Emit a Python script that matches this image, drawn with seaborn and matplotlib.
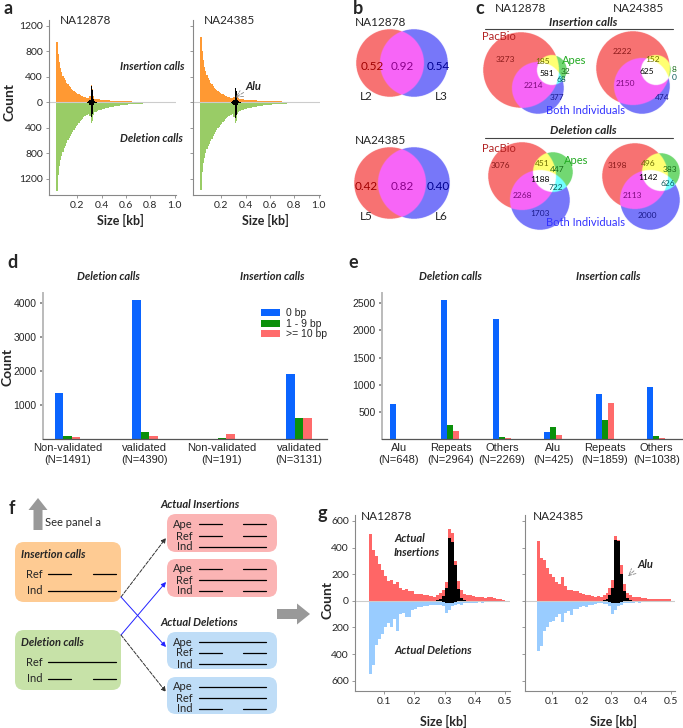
import numpy as np
import pandas as pd
import matplotlib
matplotlib.use("Agg")
import matplotlib.pyplot as plt
import seaborn as sns
from matplotlib.patches import FancyBboxPatch, FancyArrow
from matplotlib.ticker import FuncFormatter

# ---------------- data ----------------
# panel a: size histograms, 0.01 kb bins starting at 0.03 kb
a_ins_na12878 = [950, 760, 640, 540, 470, 420, 380, 345, 310, 280, 255, 235, 215, 195, 178,
                 163, 150, 138, 125, 113, 102, 93, 85, 78, 72, 67, 70, 95, 265, 210,
                 100, 58, 52, 49, 47, 45, 43,
                 41, 39, 37, 35, 33, 31, 30, 28, 27, 26,
                 25, 24, 23, 22, 21, 20, 19, 18, 17, 16, 15, 15, 14, 13, 13, 12, 12, 11, 11, 10,
                 10, 9, 9, 9, 8, 8, 8, 7, 7, 7, 7, 6, 6, 6, 6, 5, 5, 5, 5, 5,
                 5, 4, 4, 4, 4, 4, 4, 4, 4, 4]
a_del_na12878 = [1400, 1150, 1000, 900, 850, 780, 720, 680, 640, 600, 560, 530, 500, 460, 430,
                 400, 375, 350, 325, 300, 275, 255, 235, 220, 205, 195, 190, 220, 330, 300,
                 200, 160, 145, 135, 128, 122, 116,
                 110, 104, 98, 93, 88, 83, 79, 75, 71, 67,
                 63, 60, 57, 54, 51, 48, 45, 43, 41, 39, 37, 35, 33, 31, 30, 28, 27, 26, 25, 24,
                 23, 22, 21, 20, 19, 18, 17, 16, 16, 15, 15, 14, 14, 13, 13, 12, 12, 11, 11, 10,
                 10, 10, 9, 9, 9, 8, 8, 8, 7, 7]
a_ins_na24385 = [1030, 800, 660, 560, 490, 430, 385, 345, 310, 280, 255, 232, 212, 195, 178,
                 163, 150, 137, 124, 112, 101, 92, 84, 77, 71, 66, 68, 90, 190, 160,
                 85, 60, 53, 50, 47, 45, 43,
                 41, 39, 37, 35, 34, 32, 31, 30, 29, 28,
                 27, 26, 25, 24, 23, 22, 21, 20, 19, 18, 18, 17, 16, 16, 15, 15, 14, 14, 13, 13,
                 12, 12, 11, 11, 11, 10, 10, 10, 9, 9, 9, 8, 8, 8, 8, 7, 7, 7, 7, 6,
                 6, 6, 6, 6, 5, 5, 5, 5, 5, 5]
a_del_na24385 = [1375, 1100, 960, 870, 800, 740, 690, 650, 610, 570, 535, 500, 470, 440, 410,
                 385, 360, 335, 310, 290, 270, 250, 232, 218, 205, 195, 190, 230, 325, 290,
                 190, 150, 138, 128, 120, 114, 108,
                 102, 97, 92, 87, 83, 79, 75, 71, 67, 64,
                 61, 58, 55, 52, 50, 47, 45, 43, 41, 39, 37, 35, 33, 32, 30, 29, 28, 26, 25, 24,
                 23, 22, 21, 20, 19, 18, 17, 17, 16, 15, 15, 14, 13, 13, 12, 12, 11, 11, 10, 10,
                 10, 9, 9, 8, 8, 8, 7, 7, 7, 6]
# Alu calls, bins from 0.27 kb
a_alu_ins_na12878 = [3, 8, 15, 40, 255, 200, 45, 15, 6, 2]
a_alu_del_na12878 = [3, 8, 18, 45, 230, 180, 40, 15, 5, 2]
a_alu_ins_na24385 = [3, 8, 15, 40, 225, 180, 40, 15, 5, 2]
a_alu_del_na24385 = [3, 10, 20, 50, 250, 200, 45, 15, 6, 2]

# panel b: overlap fractions
b_names = ["NA12878", "NA24385"]
b_libs = [["L2", "L3"], ["L5", "L6"]]
b_values = [[0.52, 0.92, 0.54], [0.42, 0.82, 0.40]]

# panel c: venn counts, regions = PacBio only, PacBio&Both, PacBio&Apes, all,
# Apes only, Apes&Both, Both only
c_ins_na12878 = [3273, 2214, 185, 581, 32, 68, 377]
c_ins_na24385 = [2222, 2150, 152, 625, 8, 0, 474]
c_del_na12878 = [3076, 2268, 451, 1188, 447, 722, 1703]
c_del_na24385 = [3198, 2113, 496, 1142, 383, 626, 2000]

# panel d
d_groups = ["Non-validated\n(N=1491)", "validated\n(N=4390)",
            "Non-validated\n(N=191)", "validated\n(N=3131)"]
shift_labels = ["0 bp", "1 - 9 bp", ">= 10 bp"]
d_zero = [1350, 4070, 10, 1910]
d_small = [90, 220, 30, 615]
d_large = [55, 100, 150, 606]

# panel e
e_groups = ["Alu\n(N=648)", "Repeats\n(N=2964)", "Others\n(N=2269)",
            "Alu\n(N=425)", "Repeats\n(N=1859)", "Others\n(N=1038)"]
e_zero = [640, 2560, 2210, 130, 835, 962]
e_small = [5, 260, 40, 220, 355, 60]
e_large = [3, 140, 15, 75, 669, 16]

# panel g: 0.01 kb bins starting at 0.05 kb
g_ins_na12878 = [500, 380, 340, 280, 230, 190, 150, 160, 130, 140, 100, 80, 90, 70, 70,
                 50, 50, 50, 45, 40, 35, 30, 40, 60, 80, 140, 540, 510, 300, 150,
                 80, 50, 45, 40, 35, 30, 30, 25, 20, 25, 25, 20, 15, 10, 8]
g_del_na12878 = [550, 480, 330, 290, 250, 200, 170, 200, 140, 230, 100, 90, 120, 120, 70,
                 60, 50, 45, 40, 40, 35, 30, 30, 30, 40, 90, 70, 40, 30, 25,
                 30, 20, 20, 15, 20, 15, 10, 15, 10, 10, 8, 8, 6, 5, 5]
g_ins_na24385 = [450, 320, 310, 250, 200, 180, 140, 130, 180, 110, 80, 80, 70, 70, 60,
                 50, 40, 40, 35, 30, 35, 30, 40, 60, 100, 160, 490, 460, 270, 130,
                 60, 40, 30, 25, 25, 20, 20, 15, 15, 15, 15, 10, 15, 15, 10]
g_del_na24385 = [380, 340, 230, 200, 160, 150, 120, 100, 160, 90, 80, 110, 60, 60, 50,
                 40, 45, 35, 30, 25, 20, 20, 25, 25, 40, 100, 70, 40, 30, 20,
                 20, 15, 15, 12, 15, 10, 10, 10, 8, 8, 8, 6, 6, 5, 5]
g_alu_ins_na12878 = [5, 15, 35, 100, 470, 440, 270, 90, 20, 5]   # from 0.27 kb
g_alu_ins_na24385 = [5, 15, 40, 100, 460, 450, 200, 70, 20, 5]
g_alu_del_na12878 = [3, 8, 15, 20, 18, 10, 4]                  # from 0.28 kb
g_alu_del_na24385 = [3, 8, 15, 20, 18, 10, 4]

# ---------------- figure ----------------
sns.set_theme(style="ticks")
plt.rcParams["font.family"] = ["Lato", "DejaVu Sans"]

W, H = 683, 728
fig = plt.figure(figsize=(W / 100, H / 100), dpi=100)
canvas = fig.add_axes([0, 0, 1, 1], zorder=5)
canvas.axis("off")


def box(x0, y0, x1, y1):
    return fig.add_axes([x0 / W, 1 - y1 / H, (x1 - x0) / W, (y1 - y0) / H])


absfmt = FuncFormatter(lambda v, p: "%d" % abs(v))
BI = dict(fontweight="bold", fontstyle="italic")
ARIAL = ["Liberation Sans", "DejaVu Sans"]


def style_axes(ax, show_labels=True, size=7.5):
    sns.despine(ax=ax)
    for s in ["left", "bottom"]:
        ax.spines[s].set_color("#888888")
        ax.spines[s].set_linewidth(0.8)
    ax.tick_params(length=2.5, width=0.6, color="#888888", labelsize=size, pad=2)
    if not show_labels:
        ax.tick_params(labelleft=False)


def mirror_hist(ax, start, width, ins, dele, c_ins, c_del,
                alu_ins, alu_ins_start, alu_del, alu_del_start):
    x = start + width * np.arange(len(ins))
    ax.bar(x, ins, width=width, align="edge", color=c_ins, linewidth=0)
    ax.bar(x, -np.array(dele), width=width, align="edge", color=c_del, linewidth=0)
    ax.axhline(0, color="#CCCCCC", lw=0.8, zorder=2.5)
    xa = alu_ins_start + width * np.arange(len(alu_ins))
    ax.bar(xa, alu_ins, width=width, align="edge", color="black", linewidth=0, zorder=3)
    xd = alu_del_start + width * np.arange(len(alu_del))
    ax.bar(xd, -np.array(alu_del), width=width, align="edge", color="black",
           linewidth=0, zorder=3)
    ax.yaxis.set_major_formatter(absfmt)


# ---- panel a ----
for i, (x0, x1, ins, dele, ai, ad) in enumerate([
        (49, 176, a_ins_na12878, a_del_na12878, a_alu_ins_na12878, a_alu_del_na12878),
        (193, 320, a_ins_na24385, a_del_na24385, a_alu_ins_na24385, a_alu_del_na24385)]):
    ax = box(x0, 20, x1, 195)
    mirror_hist(ax, 0.03, 0.01, ins, dele, "#FF9933", "#99CC66", ai, 0.27, ad, 0.27)
    ax.set_xlim(-0.03, 1.01)
    ax.set_ylim(-1458, 1294)
    ax.set_yticks([-1200, -800, -400, 0, 400, 800, 1200])
    ax.set_xticks([0.2, 0.4, 0.6, 0.8, 1.0])
    style_axes(ax, show_labels=(i == 0))

canvas.text(60, 20, "NA12878", fontsize=8.5, va="center")
canvas.text(204, 20, "NA24385", fontsize=8.5, va="center")
canvas.text(152, 66, "Insertion calls", fontsize=8, ha="center", va="center", **BI)
canvas.text(151, 138, "Deletion calls", fontsize=8, ha="center", va="center", **BI)
canvas.text(10, 102, "Count", fontsize=10, fontweight="bold", rotation=90,
            ha="center", va="center")
canvas.text(120, 220, "Size [kb]", fontsize=9, fontweight="bold", ha="center", va="center")
canvas.text(265, 220, "Size [kb]", fontsize=9, fontweight="bold", ha="center", va="center")
canvas.text(245, 87, "Alu", fontsize=8, ha="left", va="center", **BI)
canvas.annotate("", xy=(233, 99), xytext=(246, 91),
                arrowprops=dict(arrowstyle="->", color="#888888", ls="--", lw=0.6))

# ---- venn helpers ----
RED = (0.97, 0.45, 0.45)
BLUE = (0.47, 0.47, 0.98)
MAG = (0.97, 0.40, 0.97)
GREEN = (0.45, 0.85, 0.45)
YEL = (1.0, 1.0, 0.45)
CYAN = (0.45, 1.0, 1.0)
lut2 = np.array([(1, 1, 1, 0), RED + (1,), BLUE + (1,), MAG + (1,)])
lut3 = np.array([(1, 1, 1, 0), RED + (1,), BLUE + (1,), MAG + (1,),
                 GREEN + (1,), YEL + (1,), CYAN + (1,), (1, 1, 1, 1)])


def draw_venn(circles, lut):
    x0 = min(cx - r for cx, cy, r in circles) - 2
    x1 = max(cx + r for cx, cy, r in circles) + 2
    y0 = min(cy - r for cx, cy, r in circles) - 2
    y1 = max(cy + r for cx, cy, r in circles) + 2
    xs = np.arange(x0, x1, 0.25) + 0.125
    ys = np.arange(y0, y1, 0.25) + 0.125
    X, Y = np.meshgrid(xs, ys)
    code = np.zeros(X.shape, int)
    for k, (cx, cy, r) in enumerate(circles):
        code += ((X - cx) ** 2 + (Y - cy) ** 2 <= r * r).astype(int) << k
    canvas.imshow(lut[code], extent=(xs[0], xs[-1], ys[-1], ys[0]),
                  interpolation="bilinear", aspect="auto", zorder=1)


# ---- panel b ----
b_circles = [[(390, 63, 34), (414, 63, 34)], [(390, 183, 36), (414, 183, 36)]]
b_text_x = [[372, 402, 438], [366, 402, 438]]
b_text_colors = ["#A00000", "#8A008A", "#000090"]
for row in range(2):
    draw_venn(b_circles[row], lut2)
    cy = b_circles[row][0][1]
    canvas.text(355, cy - 40 - 3 * row, b_names[row], fontsize=8.5, va="center")
    for tx, val, col in zip(b_text_x[row], b_values[row], b_text_colors):
        canvas.text(tx, cy + 3, "%.2f" % val, color=col, fontsize=8.5,
                    ha="center", va="center")
    canvas.text(366, cy + 34, b_libs[row][0], fontsize=8.5, ha="center", va="center")
    canvas.text(441, cy + 34, b_libs[row][1], fontsize=8.5, ha="center", va="center")

# ---- panel c ----
region_codes = [1, 3, 5, 7, 4, 6, 2]
region_text = {1: "#8B1A1A", 3: "#7D0A7D", 5: "#6B6B00", 7: "black",
               4: "#1A6B1A", 6: "#0A5A5A", 2: "#1A1A8B"}
c_sets = [
    (c_ins_na12878, [(521, 70, 38), (538, 88, 26), (552, 70, 15)],
     [(505, 60), (533, 86), (543, 61), (547, 73), (566, 71), (561, 80), (557, 98)]),
    (c_ins_na24385, [(633, 68, 37), (642, 86, 28), (656, 70, 15)],
     [(622, 52), (625, 83), (653, 60), (647, 72), (674, 70), (674, 78), (662, 98)]),
    (c_del_na12878, [(522, 176, 34), (540, 200, 30), (553, 172, 20)],
     [(500, 166), (522, 196), (542, 163), (540, 180), (557, 170), (556, 187), (540, 213)]),
    (c_del_na24385, [(635, 176, 33), (650, 200, 30), (661, 172, 19)],
     [(617, 166), (632, 196), (648, 163), (648, 178), (670, 169), (668, 184), (647, 216)]),
]
for counts, circles, pos in c_sets:
    draw_venn(circles, lut3)
    for n, code, (tx, ty) in zip(counts, region_codes, pos):
        canvas.text(tx, ty, str(n), color=region_text[code], fontsize=6,
                    ha="center", va="center")

canvas.text(521, 8, "NA12878", fontsize=8.5, ha="center", va="center")
canvas.text(639, 8, "NA24385", fontsize=8.5, ha="center", va="center")
for ty, title in [(22, "Insertion calls"), (131, "Deletion calls")]:
    canvas.text(583, ty, title, fontsize=8.5, ha="center", va="center", **BI)
    canvas.plot([485, 673], [ty + 7, ty + 7], color="#444444", lw=0.8)
for py, ax_, bx, by in [(37, 562, 60, 110), (149, 564, 161, 223)]:
    canvas.text(482, py, "PacBio", color="#B22222", fontsize=8, va="center")
    canvas.text(ax_, bx, "Apes", color="#22AA22", fontsize=8, va="center")
    canvas.text(585, by, "Both Individuals", color="#3333FF",
                fontsize=8, ha="center", va="center")

# ---- panels d and e ----
palette = ["#0A64FF", "#0B900B", "#FF6B6B"]


def grouped_bars(ax, groups, zero, small, large, legend, width):
    df = pd.DataFrame({
        "group": groups * 3,
        "shift": sum([[s] * len(groups) for s in shift_labels], []),
        "count": zero + small + large,
    })
    sns.barplot(data=df, x="group", y="count", hue="shift", hue_order=shift_labels,
                palette=palette, saturation=1, errorbar=None, ax=ax,
                legend=legend, linewidth=0, width=width)
    sns.despine(ax=ax)
    ax.spines["left"].set_color("#BBBBBB")
    ax.spines["left"].set_linewidth(1.4)
    ax.spines["bottom"].set_color("#555555")
    ax.spines["bottom"].set_linewidth(0.9)
    ax.tick_params(axis="x", length=0, labelsize=8, pad=3)
    ax.tick_params(axis="y", length=2.5, color="#888888", labelsize=7.5, pad=2)
    ax.set_xlabel("")
    ax.set_ylabel("")


def arial_ticks(ax):
    for t in ax.get_yticklabels() + ax.get_xticklabels():
        t.set_family(ARIAL)


ax_d = box(43, 293, 327, 439)
grouped_bars(ax_d, d_groups, d_zero, d_small, d_large, True, 0.33)
ax_d.set_xlim(-0.32, 3.36)
ax_d.set_ylim(0, 4290)
ax_d.set_yticks([1000, 2000, 3000, 4000])
arial_ticks(ax_d)
h, l = ax_d.get_legend_handles_labels()
ax_d.legend(h, l, loc="upper right", bbox_to_anchor=(1.02, 0.93), frameon=False,
            handlelength=1.8, handleheight=0.7, labelspacing=0.05,
            handletextpad=0.6, borderpad=0, prop={"family": ARIAL, "size": 7.5})

ax_e = box(382, 293, 682, 439)
grouped_bars(ax_e, e_groups, e_zero, e_small, e_large, False, 0.35)
ax_e.set_xlim(-0.33, 5.5)
ax_e.set_ylim(0, 2690)
ax_e.set_yticks([500, 1000, 1500, 2000, 2500])
arial_ticks(ax_e)

canvas.text(8, 367, "Count", fontsize=10, fontweight="bold", rotation=90,
            ha="center", va="center")
for tx, title in [(108, "Deletion calls"), (272, "Insertion calls"),
                  (450, "Deletion calls"), (608, "Insertion calls")]:
    canvas.text(tx, 276, title, fontsize=8, ha="center", va="center", **BI)


# ---- panel f ----
def rbox(x0, y0, x1, y1, color):
    canvas.add_patch(FancyBboxPatch((x0, y0), x1 - x0, y1 - y0,
                                    boxstyle="round,pad=0,rounding_size=9",
                                    fc=color, ec="none", zorder=1))


def tracks(xl, x0, x1, rows):
    gap_a = x0 + (x1 - x0) * 0.34
    gap_b = x0 + (x1 - x0) * 0.66
    for name, y, full in rows:
        canvas.text(xl, y, name, fontsize=8, ha="right", va="center")
        if full:
            canvas.plot([x0, x1], [y, y], color="black", lw=0.9)
        else:
            canvas.plot([x0, gap_a], [y, y], color="black", lw=0.9)
            canvas.plot([gap_b, x1], [y, y], color="black", lw=0.9)


rbox(15, 542, 121, 602, "#FECB93")
canvas.text(21, 555, "Insertion calls", fontsize=8, va="center", **BI)
tracks(43, 48, 116, [("Ref", 574, False), ("Ind", 591, True)])
rbox(15, 630, 121, 690, "#C7E2A8")
canvas.text(21, 643, "Deletion calls", fontsize=8, va="center", **BI)
tracks(43, 48, 116, [("Ref", 662, True), ("Ind", 679, False)])

canvas.text(160, 505, "Actual Insertions", fontsize=8, va="center", **BI)
canvas.text(160, 622, "Actual Deletions", fontsize=8, va="center", **BI)
rbox(167, 514, 277, 552, "#FBB4B4")
tracks(193, 199, 266, [("Ape", 524, False), ("Ref", 536, False), ("Ind", 547, True)])
rbox(167, 559, 277, 597, "#FBB4B4")
tracks(193, 199, 266, [("Ape", 569, False), ("Ref", 580, True), ("Ind", 591, False)])
rbox(167, 632, 277, 669, "#BFDDF7")
tracks(193, 199, 266, [("Ape", 642, True), ("Ref", 653, False), ("Ind", 664, True)])
rbox(167, 677, 277, 714, "#BFDDF7")
tracks(193, 199, 266, [("Ape", 687, True), ("Ref", 698, True), ("Ind", 709, False)])

for start, end, col, ls in [((121, 597), (166, 538), "#333333", "--"),
                            ((121, 597), (166, 647), "#2222FF", "-"),
                            ((121, 635), (166, 582), "#2222FF", "-"),
                            ((121, 635), (166, 692), "#333333", "--")]:
    canvas.annotate("", xy=end, xytext=start,
                    arrowprops=dict(arrowstyle="-|>", color=col, ls=ls, lw=0.7,
                                    shrinkA=0, shrinkB=0, mutation_scale=7))

canvas.add_patch(FancyArrow(38, 530, 0, -20, width=9, head_width=19, head_length=12,
                            length_includes_head=False, color="#999999", lw=0))
canvas.text(45, 522, "See panel a", fontsize=8, va="center")
canvas.add_patch(FancyArrow(277, 614, 20, 0, width=10, head_width=21, head_length=13,
                            color="#999999", lw=0))

# ---- panel g ----
for i, (x0, x1, xl, ins, dele, ai, ad) in enumerate([
        (355, 510, (0.003, 0.517), g_ins_na12878, g_del_na12878,
         g_alu_ins_na12878, g_alu_del_na12878),
        (525, 675, (0.01, 0.513), g_ins_na24385, g_del_na24385,
         g_alu_ins_na24385, g_alu_del_na24385)]):
    ax = box(x0, 515, x1, 691)
    mirror_hist(ax, 0.05, 0.01, ins, dele, "#FF6666", "#99CCFF", ai, 0.27, ad, 0.28)
    ax.set_xlim(*xl)
    ax.set_ylim(-678, 645)
    ax.set_yticks([-600, -400, -200, 0, 200, 400, 600])
    ax.set_xticks([0.1, 0.2, 0.3, 0.4, 0.5])
    style_axes(ax, show_labels=(i == 0))

canvas.text(361, 517, "NA12878", fontsize=8.5, va="center")
canvas.text(533, 517, "NA24385", fontsize=8.5, va="center")
canvas.text(394, 538, "Actual", fontsize=8, va="center", **BI)
canvas.text(394, 552, "Insertions", fontsize=8, va="center", **BI)
canvas.text(394, 650, "Actual Deletions", fontsize=8, va="center", **BI)
canvas.text(637, 564, "Alu", fontsize=8, va="center", **BI)
canvas.annotate("", xy=(626, 578), xytext=(636, 569),
                arrowprops=dict(arrowstyle="->", color="#888888", ls="--", lw=0.6))
canvas.text(327, 600, "Count", fontsize=10, fontweight="bold", rotation=90,
            ha="center", va="center")
canvas.text(443, 721, "Size [kb]", fontsize=9, fontweight="bold", ha="center", va="center")
canvas.text(613, 721, "Size [kb]", fontsize=9, fontweight="bold", ha="center", va="center")

# ---- panel letters ----
for lx, ly, letter in [(8, 9, "a"), (358, 9, "b"), (480, 8, "c"), (12, 263, "d"),
                       (353, 263, "e"), (12, 508, "f"), (322, 513, "g")]:
    canvas.text(lx, ly, letter, fontsize=13, fontweight="bold", ha="center", va="center")

canvas.set_xlim(0, W)
canvas.set_ylim(H, 0)
fig.savefig("out.png", dpi=100)
